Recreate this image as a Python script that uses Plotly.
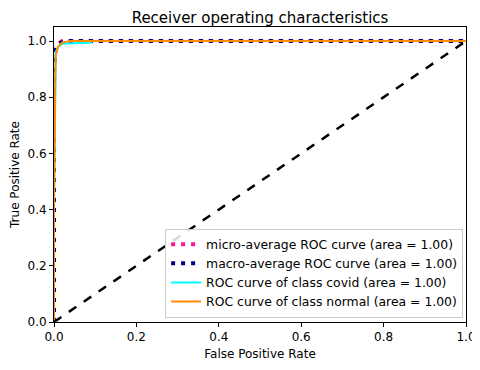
import plotly.graph_objects as go

# ROC points
micro_fpr = [0.0, 0.0, 0.0, 0.004, 0.01, 0.02, 0.05, 1.0]
micro_tpr = [0.0, 0.4, 0.9, 0.97, 0.99, 1.0, 1.0, 1.0]
macro_fpr = [0.0, 0.0, 0.0, 0.005, 0.012, 0.025, 1.0]
macro_tpr = [0.0, 0.5, 0.92, 0.975, 0.99, 1.0, 1.0]
covid_fpr = [0.0, 0.0, 0.004, 0.01, 0.02, 0.09, 0.09, 1.0]
covid_tpr = [0.0, 0.45, 0.96, 0.98, 0.99, 0.995, 1.0, 1.0]
normal_fpr = [0.0, 0.0, 0.004, 0.01, 0.02, 0.04, 1.0]
normal_tpr = [0.0, 0.4, 0.95, 0.98, 0.995, 1.0, 1.0]
diag = [0.0, 1.0]

font = "DejaVu Sans, sans-serif"

fig = go.Figure()
fig.add_trace(go.Scatter(x=micro_fpr, y=micro_tpr, mode="lines",
                         name="micro-average ROC curve (area = 1.00)",
                         line=dict(color="deeppink", width=4, dash="4px,6px")))
fig.add_trace(go.Scatter(x=macro_fpr, y=macro_tpr, mode="lines",
                         name="macro-average ROC curve (area = 1.00)",
                         line=dict(color="navy", width=4, dash="4px,6px")))
fig.add_trace(go.Scatter(x=covid_fpr, y=covid_tpr, mode="lines",
                         name="ROC curve of class covid (area = 1.00)",
                         line=dict(color="aqua", width=2)))
fig.add_trace(go.Scatter(x=normal_fpr, y=normal_tpr, mode="lines",
                         name="ROC curve of class normal (area = 1.00)",
                         line=dict(color="darkorange", width=2)))
fig.add_trace(go.Scatter(x=diag, y=diag, mode="lines", showlegend=False,
                         line=dict(color="black", width=2.5, dash="dash")))

axis = dict(showgrid=False, zeroline=False, showline=True, linecolor="black",
            linewidth=1, mirror=True, ticks="outside", ticklen=4,
            tickcolor="black", tickformat=".1f", automargin=False,
            tickmode="array", tickvals=[0, 0.2, 0.4, 0.6, 0.8, 1.0],
            tickfont=dict(size=12, color="black"))

# page body adds an 8px offset, so the figure is 8px smaller than the window
fig.update_layout(
    width=472, height=362,
    margin=dict(l=46, r=14, t=19, b=48),
    paper_bgcolor="white", plot_bgcolor="white",
    font=dict(family=font, color="black"),
    title=dict(text="Receiver operating characteristics", x=0.5,
               xref="paper", y=0.972, yanchor="middle",
               font=dict(size=15, color="black")),
    xaxis=dict(axis, range=[0, 1],
               title=dict(text="False Positive Rate", font=dict(size=12), standoff=6)),
    yaxis=dict(axis, range=[0, 1.05],
               title=dict(text="True Positive Rate", font=dict(size=12), standoff=6)),
    legend=dict(x=0.993, y=0.015, xanchor="right", yanchor="bottom",
                bgcolor="rgba(255,255,255,0.85)", bordercolor="#cccccc",
                borderwidth=1, font=dict(size=12.4), tracegroupgap=0),
)

fig.write_html("out.html")
